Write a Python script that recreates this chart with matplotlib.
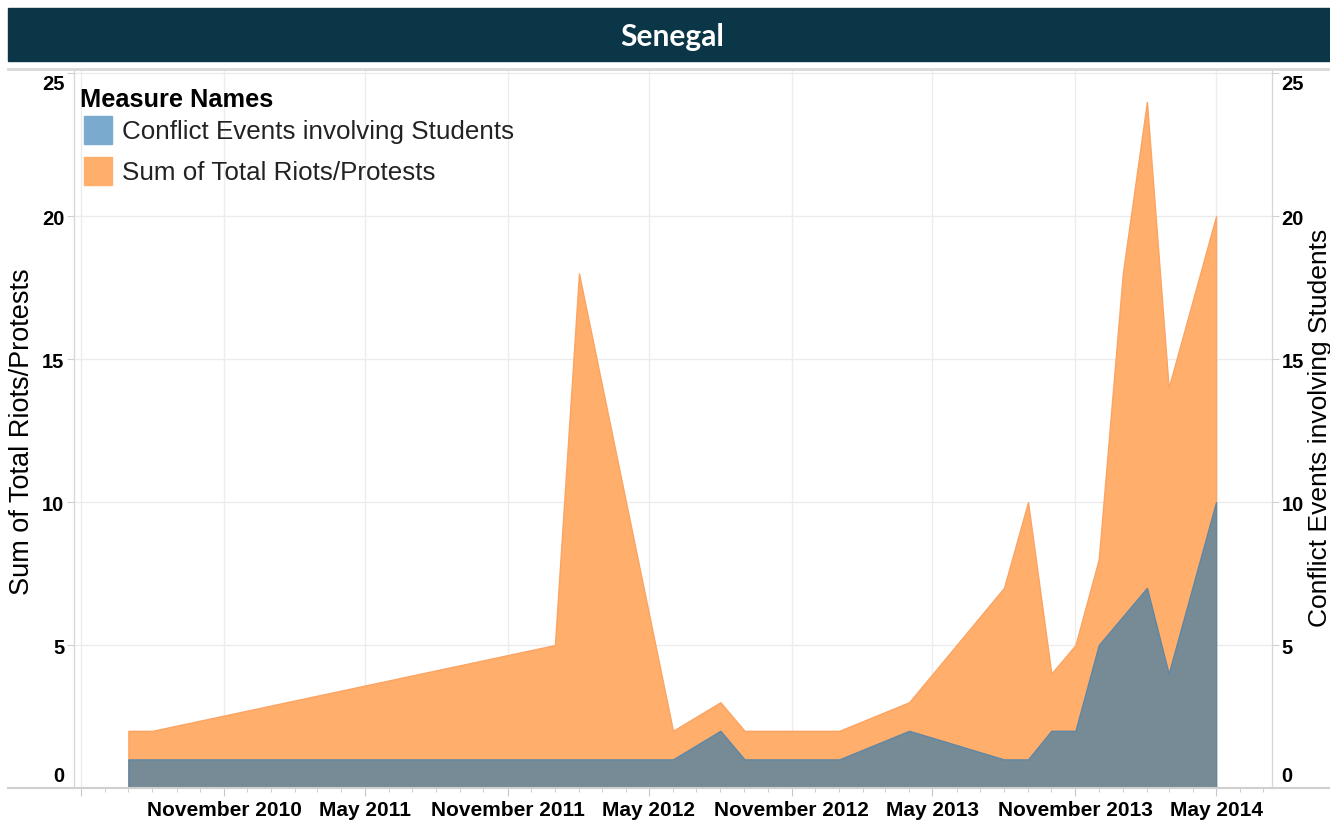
import pandas as pd
import matplotlib.pyplot as plt
import matplotlib.dates as mdates
from matplotlib.patches import Rectangle
from matplotlib.lines import Line2D
from matplotlib.transforms import ScaledTranslation

plt.rcParams['font.family'] = ['Liberation Sans', 'DejaVu Sans']

# Данные по месяцам (Сенегал)
months = ['2010-07-01', '2010-08-01', '2012-01-01', '2012-02-01', '2012-06-01',
          '2012-08-01', '2012-09-01', '2013-01-01', '2013-04-01', '2013-08-01',
          '2013-09-01', '2013-10-01', '2013-11-01', '2013-12-01', '2014-01-01',
          '2014-02-01', '2014-03-01', '2014-05-01']
riots_protests = [2, 2, 5, 18, 2, 3, 2, 2, 3, 7, 10, 4, 5, 8, 18, 24, 14, 20]
student_events = [1, 1, 1, 1, 1, 2, 1, 1, 2, 1, 1, 2, 2, 5, 6, 7, 4, 10]

x_ticks = ['2010-05-01', '2010-11-01', '2011-05-01', '2011-11-01', '2012-05-01',
           '2012-11-01', '2013-05-01', '2013-11-01', '2014-05-01']
x_labels = ['', 'November 2010', 'May 2011', 'November 2011', 'May 2012',
            'November 2012', 'May 2013', 'November 2013', 'May 2014']
y_ticks = [0, 5, 10, 15, 20, 25]

legend_names = ['Conflict Events involving Students', 'Sum of Total Riots/Protests']
legend_colors = ['#7aaace', '#ffae6b']

dates = pd.to_datetime(months)

W, H = 1330, 828


def px(x, y):
    # пиксели -> доли фигуры
    return x / W, 1 - y / H


fig = plt.figure(figsize=(W / 100, H / 100), dpi=100)
ax = fig.add_axes([74 / W, 1 - 789 / H, (1272 - 74) / W, (789 - 70) / H])

# Области
ax.fill_between(dates, 0, riots_protests, facecolor='#ffae6b', edgecolor='#fba463', lw=1, zorder=2)
ax.fill_between(dates, 0, student_events, facecolor='#778b96', edgecolor='#5f87a6', lw=1, zorder=3)

ax.set_xlim(pd.Timestamp('2010-04-22'), pd.Timestamp('2014-07-12'))
ax.set_ylim(0, 25.15)

# Ось X
ax.set_xticks(pd.to_datetime(x_ticks))
ax.set_xticklabels(x_labels, fontsize=15, fontweight='bold')
ax.xaxis.set_minor_locator(mdates.MonthLocator())
ax.tick_params(axis='x', which='major', length=6, color='#c8c8c8', pad=3)
ax.tick_params(axis='x', which='minor', length=3, color='#c8c8c8')

# Ось Y слева
ax.set_yticks(y_ticks)
ax.set_yticklabels([str(v) for v in y_ticks], fontsize=14.5, fontweight='bold')
ax.tick_params(axis='y', length=5, color='#d0d0d0', pad=2)
ax.grid(True, which='major', color='#ececec', lw=1)
ax.set_axisbelow(True)

# Ось Y справа
ax2 = ax.twinx()
ax2.set_ylim(ax.get_ylim())
ax2.set_yticks(y_ticks)
ax2.set_yticklabels([str(v) for v in y_ticks], fontsize=14.5, fontweight='bold')
ax2.tick_params(axis='y', length=5, color='#d0d0d0', pad=2)

for a in (ax, ax2):
    for side in ('top', 'bottom'):
        a.spines[side].set_visible(False)
    a.spines['left'].set_color('#d6d6d6')
    a.spines['right'].set_color('#d6d6d6')
    labels = a.get_yticklabels()
    labels[0].set_transform(labels[0].get_transform() + ScaledTranslation(0, 0.14, fig.dpi_scale_trans))
    labels[-1].set_transform(labels[-1].get_transform() + ScaledTranslation(0, -0.08, fig.dpi_scale_trans))

ax.set_ylabel('Sum of Total Riots/Protests', fontsize=19.5, va='center')
ax.yaxis.set_label_coords((22 - 74) / 1198, (789 - 432) / 719)
ax2.set_ylabel('Conflict Events involving Students', fontsize=19, va='center', rotation=90)
ax2.yaxis.set_label_coords((1320 - 74) / 1198, (789 - 428) / 719)

# Линии рамки
fig.add_artist(Line2D([8 / W, 1], [1 - 789 / H] * 2, color='#cfcfcf', lw=1.5))
fig.add_artist(Line2D([8 / W, 1], [1 - 69.5 / H] * 2, color='#d8d8d8', lw=2))

# Заголовок
fig.add_artist(Rectangle(px(8, 62), 1 - 8 / W, 53 / H, transform=fig.transFigure,
                         color='#0b3647', zorder=0))
fig.text(*px(672, 37), 'Senegal', color='white', fontsize=21.5, fontweight='bold',
         family='Lato', ha='center', va='center')

# Легенда
fig.text(*px(80, 100), 'Measure Names', fontsize=18.3, fontweight='bold', va='center')
for i, (name, color) in enumerate(zip(legend_names, legend_colors)):
    yc = 131 + 41 * i
    fig.add_artist(Rectangle(px(84, yc + 14), 28 / W, 28 / H, transform=fig.transFigure,
                             color=color))
    fig.text(*px(122, yc + 1), name, fontsize=18.7, va='center', color='#222222')

plt.savefig('out.png', dpi=100)
